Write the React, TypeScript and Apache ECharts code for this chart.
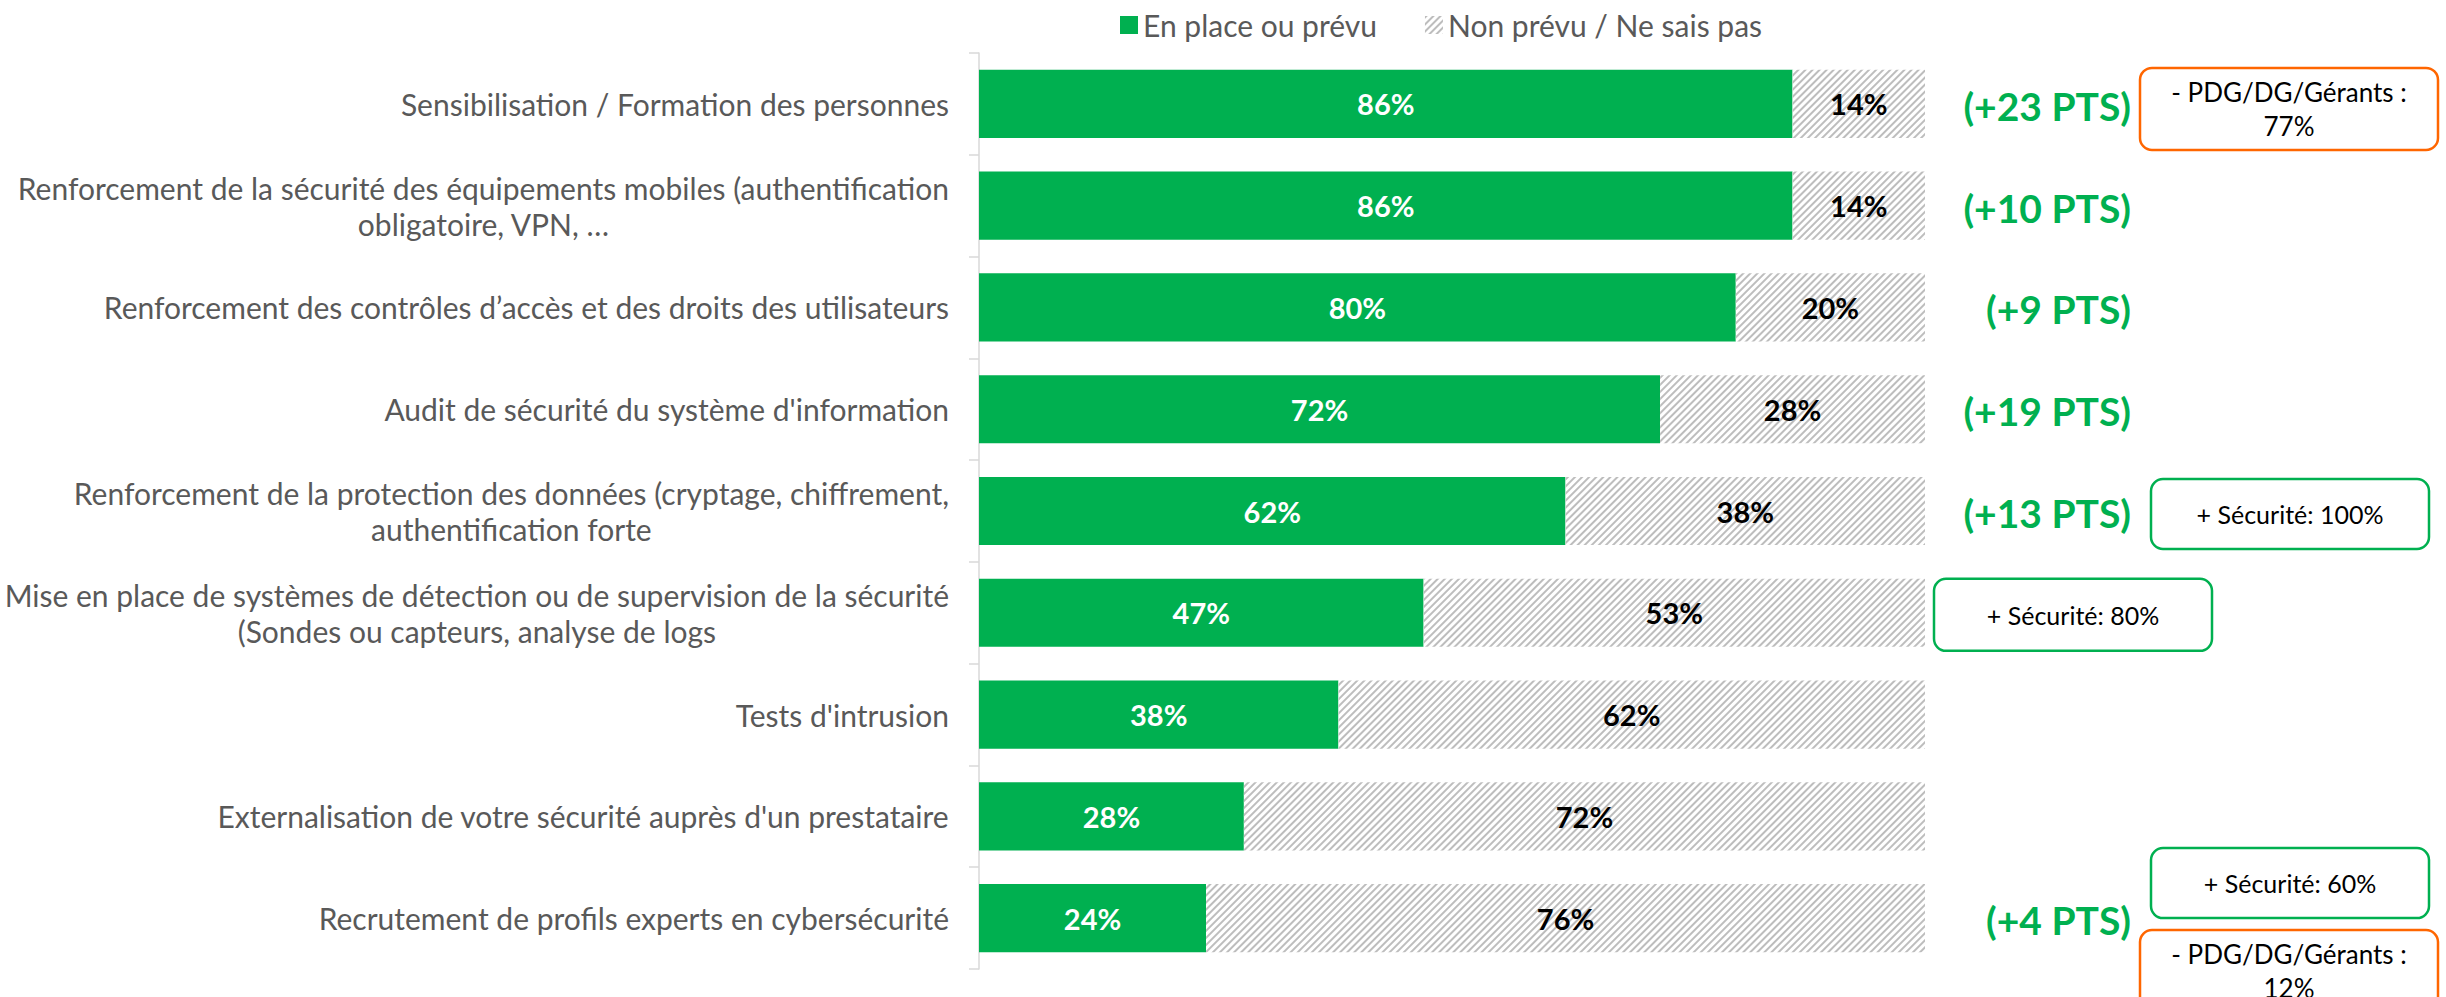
import React, { useEffect, useRef } from "react";
import * as echarts from "echarts";

const categories = [
  "Sensibilisation / Formation des personnes",
  "Renforcement de la sécurité des équipements mobiles (authentification\nobligatoire, VPN, …",
  "Renforcement des contrôles d’accès et des droits des utilisateurs",
  "Audit de sécurité du système d'information",
  "Renforcement de la protection des données (cryptage, chiffrement,\nauthentification forte",
  "Mise en place de systèmes de détection ou de supervision de la sécurité\n(Sondes ou capteurs, analyse de logs",
  "Tests d'intrusion",
  "Externalisation de votre sécurité auprès d'un prestataire",
  "Recrutement de profils experts en cybersécurité",
];
const enPlace = [86, 86, 80, 72, 62, 47, 38, 28, 24];
const nonPrevu = [14, 14, 20, 28, 38, 53, 62, 72, 76];
const evolution = ["(+23 PTS)", "(+10 PTS)", "(+9 PTS)", "(+19 PTS)", "(+13 PTS)", null, null, null, "(+4 PTS)"];
const seriesNames = ["En place ou prévu", "Non prévu / Ne sais pas"];

const calloutRows = [0, 4, 5, 8, 8];
const calloutTexts = [
  "- PDG/DG/Gérants :\n77%",
  "+ Sécurité: 100%",
  "+ Sécurité: 80%",
  "+ Sécurité: 60%",
  "- PDG/DG/Gérants :\n12%",
];
const calloutKinds = ["orange", "green", "green", "green", "orange"];

// layout of callouts (offsets from 100% bar end and row center)
const calloutLayout = [
  { dx: 215, dy: 5, w: 298, h: 82, fs: 26 },
  { dx: 226, dy: 3, w: 278, h: 70, fs: 25 },
  { dx: 9, dy: 2, w: 278, h: 72, fs: 25 },
  { dx: 226, dy: -35, w: 278, h: 70, fs: 25 },
  { dx: 215, dy: 53, w: 298, h: 82, fs: 26 },
];

const GREEN = "#00B050";
const ORANGE = "#FF6600";
const FONT = "Lato";

export default function App() {
  const ref = useRef<HTMLDivElement>(null);
  useEffect(() => {
    if (!ref.current) return;
    const chart = echarts.init(ref.current, null, { renderer: "svg" });
    const option: any = {
      animation: false,
      textStyle: { fontFamily: FONT },
      legend: {
        top: 5,
        left: 1115,
        itemWidth: 18,
        itemHeight: 18,
        itemGap: 48,
        textStyle: { fontSize: 30, color: "#595959", fontFamily: FONT },
        data: [
          { name: seriesNames[0], icon: "rect" },
          { name: seriesNames[1], icon: "rect" },
        ],
      },
      grid: { left: 979, right: 521, top: 53, bottom: 28 },
      xAxis: { type: "value", min: 0, max: 100, show: false },
      yAxis: {
        type: "category",
        inverse: true,
        data: categories,
        axisLine: { lineStyle: { color: "#D9D9D9", width: 1.5 } },
        axisTick: { show: true, length: 10, lineStyle: { color: "#D9D9D9", width: 1.5 } },
        axisLabel: {
          margin: 30,
          formatter: (v: string) =>
            v
              .split("\n")
              .map((s) => "{a|" + s + "}")
              .join("\n"),
          rich: {
            a: { align: "center", fontSize: 30, lineHeight: 36, color: "#595959", fontFamily: FONT },
          },
        },
        splitLine: { show: false },
      },
      series: [
        {
          name: seriesNames[0],
          type: "bar",
          stack: "t",
          barCategoryGap: "33%",
          data: enPlace,
          itemStyle: { color: GREEN },
          label: {
            show: true,
            position: "inside",
            formatter: "{c}%",
            color: "#fff",
            fontWeight: "bold",
            fontSize: 29,
            fontFamily: FONT,
          },
        },
        {
          name: seriesNames[1],
          type: "bar",
          stack: "t",
          data: nonPrevu,
          itemStyle: {
            color: "#fff",
            decal: {
              symbol: "rect",
              symbolSize: 1,
              dashArrayX: [1, 0],
              dashArrayY: [1.6, 3],
              rotation: -Math.PI / 4,
              color: "#BDBDBD",
              backgroundColor: "#fff",
            },
          },
          label: {
            show: true,
            position: "inside",
            formatter: "{c}%",
            color: "#000",
            fontWeight: "bold",
            fontSize: 29,
            fontFamily: FONT,
          },
        },
        {
          type: "scatter",
          symbolSize: 0,
          silent: true,
          itemStyle: { opacity: 1 },
          data: evolution
            .map((t, i) => (t ? { value: [100, categories[i]], txt: t } : null))
            .filter((d) => d),
          label: {
            show: true,
            position: "inside",
            align: "right",
            verticalAlign: "middle",
            offset: [206, 2],
            formatter: (p: any) => p.data.txt,
            color: GREEN,
            opacity: 1,
            fontWeight: "bold",
            fontSize: 39,
            fontFamily: FONT,
          },
        },
      ],
    };
    chart.setOption(option);

    const x100 = chart.convertToPixel({ xAxisIndex: 0 }, 100) as number;
    const graphics = calloutRows.map((row, i) => {
      const yc = chart.convertToPixel({ yAxisIndex: 0 }, categories[row]) as number;
      const L = calloutLayout[i];
      const color = calloutKinds[i] === "orange" ? ORANGE : GREEN;
      return {
        type: "group",
        x: x100 + L.dx,
        y: yc + L.dy - L.h / 2,
        children: [
          {
            type: "rect",
            shape: { x: 0, y: 0, width: L.w, height: L.h, r: 12 },
            style: { fill: "#fff", stroke: color, lineWidth: 2.5 },
          },
          {
            type: "text",
            x: L.w / 2,
            y: L.h / 2,
            style: {
              text: calloutTexts[i],
              align: "center",
              verticalAlign: "middle",
              fontSize: L.fs,
              lineHeight: 34,
              fill: "#000",
              fontFamily: FONT,
            },
          },
        ],
      };
    });
    chart.setOption({ graphic: graphics });

    return () => chart.dispose();
  }, []);
  return (
    <div
      ref={ref}
      style={{ position: "fixed", left: 0, top: 0, width: "2446px", height: "997px", background: "#fff" }}
    />
  );
}
